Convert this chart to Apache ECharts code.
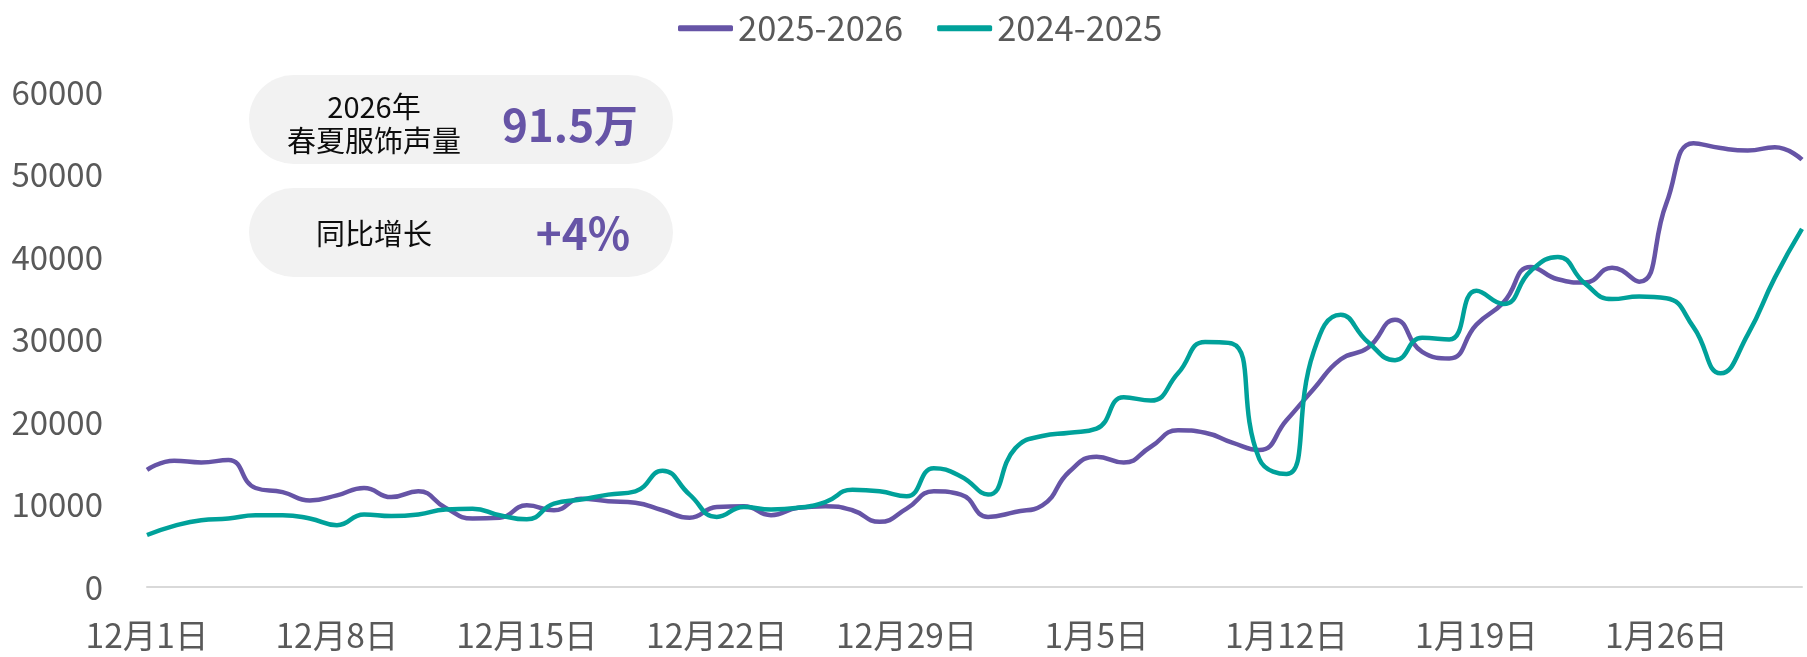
<!DOCTYPE html>
<html>
<head>
<meta charset="utf-8">
<title>春夏服饰声量</title>
<script src="https://cdn.jsdelivr.net/npm/echarts@6/dist/echarts.min.js"></script>
<style>
  html, body { margin: 0; padding: 0; background: #fff; }
  #charts { width: 1807px; height: 657px; }
</style>
</head>
<body>
<div id="charts"></div>
<script>
// x轴日期
const days = [
  '12月1日', '12月2日', '12月3日', '12月4日', '12月5日', '12月6日', '12月7日',
  '12月8日', '12月9日', '12月10日', '12月11日', '12月12日', '12月13日', '12月14日',
  '12月15日', '12月16日', '12月17日', '12月18日', '12月19日', '12月20日', '12月21日',
  '12月22日', '12月23日', '12月24日', '12月25日', '12月26日', '12月27日', '12月28日',
  '12月29日', '12月30日', '12月31日', '1月1日', '1月2日', '1月3日', '1月4日',
  '1月5日', '1月6日', '1月7日', '1月8日', '1月9日', '1月10日', '1月11日',
  '1月12日', '1月13日', '1月14日', '1月15日', '1月16日', '1月17日', '1月18日',
  '1月19日', '1月20日', '1月21日', '1月22日', '1月23日', '1月24日', '1月25日',
  '1月26日', '1月27日', '1月28日', '1月29日', '1月30日', '1月31日',
]
// 2025-2026 声量
const season2526 = [
  14200, 15300, 15100, 15400, 12000, 11500, 10500,
  11100, 12000, 10900, 11600, 9600, 8300, 8400,
  9900, 9300, 10700, 10400, 10200, 9300, 8400,
  9700, 9800, 8700, 9600, 9800, 9300, 7900,
  9500, 11600, 11200, 8500, 9100, 9900, 14000,
  15800, 15100, 17000, 19000, 18700, 17500, 16600,
  20200, 24000, 27600, 29000, 32400, 28500, 27700,
  31800, 34500, 38800, 37300, 36900, 38700, 37000,
  46500, 53800, 53200, 52900, 53300, 51800,
]
// 2024-2025 声量
const season2425 = [
  6300, 7400, 8100, 8300, 8700, 8700, 8300,
  7500, 8800, 8600, 8800, 9400, 9500, 8700,
  8200, 10100, 10600, 11200, 11600, 14100, 11200,
  8500, 9700, 9400, 9600, 10300, 11800, 11600,
  11000, 14400, 13400, 11200, 16800, 18300, 18700,
  19200, 23000, 22600, 25900, 29700, 29500, 15500,
  13700, 28500, 33000, 29700, 27500, 30200, 30000,
  35900, 34300, 38300, 40000, 36800, 34900, 35200,
  35000, 31500, 25900, 30600, 37500, 43400,
]
// y轴刻度
const yTicks = [0, 10000, 20000, 30000, 40000, 50000, 60000]
// 左上角卡片
const cardTitle = ['2026年', '春夏服饰声量']
const cardTotal = '91.5万'
const cardYoyLabel = '同比增长'
const cardYoy = '+4%'

const purple = '#6654a6'
const teal = '#00a19a'
const font = '"Noto Sans CJK SC", "Noto Sans", sans-serif'

let mycharts = echarts.init(document.getElementById('charts'))
var option = {
  animation: false,
  color: [purple, teal],
  textStyle: { fontFamily: font },
  legend: {
    left: 673,
    top: 6,
    icon: 'roundRect',
    itemWidth: 55,
    itemHeight: 6,
    itemGap: 34,
    textStyle: {
      color: '#595959',
      fontSize: 34.5,
      fontFamily: font,
    },
    data: ['2025-2026', '2024-2025'],
  },
  grid: {
    left: 147,
    right: 5,
    top: 92,
    bottom: 70,
  },
  xAxis: {
    type: 'category',
    data: days,
    boundaryGap: false,
    axisTick: { show: false },
    axisLine: {
      lineStyle: { color: '#d9d9d9', width: 2 },
    },
    axisLabel: {
      interval: 6,
      color: '#595959',
      fontSize: 33.5,
      margin: 32,
      fontFamily: font,
    },
  },
  yAxis: {
    type: 'value',
    min: yTicks[0],
    max: yTicks[yTicks.length - 1],
    interval: yTicks[1] - yTicks[0],
    splitLine: { show: false },
    axisLine: { show: false },
    axisTick: { show: false },
    axisLabel: {
      color: '#595959',
      fontSize: 33,
      margin: 44,
      fontFamily: font,
      formatter: function (v) {
        return String(v)
      },
    },
  },
  // 卡片
  graphic: [
    {
      type: 'rect',
      left: 249,
      top: 75,
      shape: { width: 424, height: 89, r: 44.5 },
      style: { fill: '#f2f2f2' },
    },
    {
      type: 'rect',
      left: 249,
      top: 188,
      shape: { width: 424, height: 89, r: 44.5 },
      style: { fill: '#f2f2f2' },
    },
    {
      type: 'text',
      x: 374,
      y: 107,
      style: {
        text: cardTitle[0],
        fill: '#0d0d0d',
        font: '29px ' + font,
        align: 'center',
        verticalAlign: 'middle',
      },
    },
    {
      type: 'text',
      x: 374,
      y: 141,
      style: {
        text: cardTitle[1],
        fill: '#0d0d0d',
        font: '29px ' + font,
        align: 'center',
        verticalAlign: 'middle',
      },
    },
    {
      type: 'text',
      x: 570,
      y: 125,
      style: {
        text: cardTotal,
        fill: purple,
        font: 'bold 44px ' + font,
        align: 'center',
        verticalAlign: 'middle',
      },
    },
    {
      type: 'text',
      x: 374,
      y: 234,
      style: {
        text: cardYoyLabel,
        fill: '#0d0d0d',
        font: '29px ' + font,
        align: 'center',
        verticalAlign: 'middle',
      },
    },
    {
      type: 'text',
      x: 583,
      y: 233,
      style: {
        text: cardYoy,
        fill: purple,
        font: 'bold 44px ' + font,
        align: 'center',
        verticalAlign: 'middle',
      },
    },
  ],
  series: [
    {
      name: '2025-2026',
      type: 'line',
      smooth: 0.5,
      symbol: 'none',
      lineStyle: { width: 4.5, color: purple },
      data: season2526,
    },
    {
      name: '2024-2025',
      type: 'line',
      smooth: 0.5,
      symbol: 'none',
      lineStyle: { width: 4.5, color: teal },
      data: season2425,
    },
  ],
}
mycharts.setOption(option)
</script>
</body>
</html>
